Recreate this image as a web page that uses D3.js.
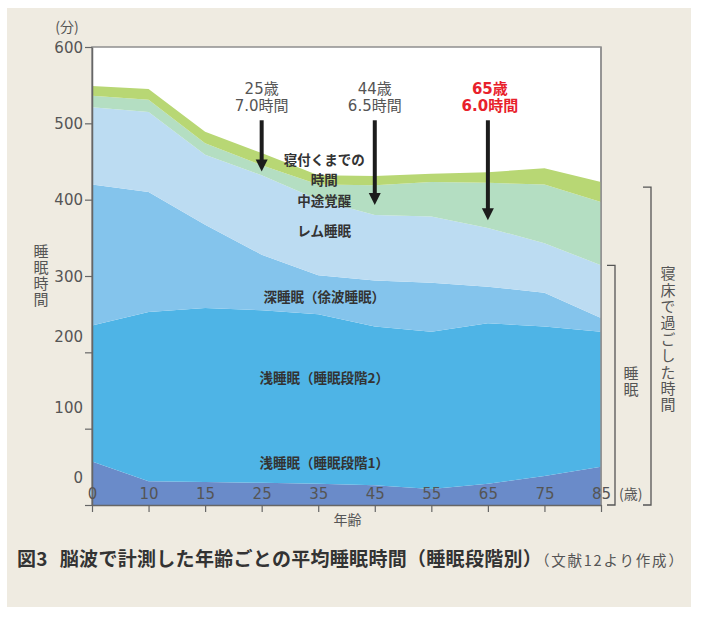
<!DOCTYPE html>
<html>
<head>
<meta charset="utf-8">
<script src="https://d3js.org/d3.v7.min.js"></script>
<style>
body { margin: 0; background: #fff; }
text { font-family: "DejaVu Sans", "Noto Sans CJK JP", sans-serif; }
.jp { font-family: "Noto Sans CJK JP", sans-serif; }
</style>
</head>
<body>
<div id="canvas"></div>
<script>

// ages on the x axis (evenly spaced categories)
var ages = ["0", "10", "15", "25", "35", "45", "55", "65", "75", "85"];
// minutes per stage, bottom to top
var stage1  = [57, 31, 30, 29, 28, 26, 21, 28, 38, 50];
var stage2  = [178, 222, 228, 226, 222, 208, 206, 210, 196, 177];
var sws     = [185, 157, 109, 73, 51, 60, 64, 48, 44, 18];
var rem     = [101, 105, 92, 104, 99, 86, 87, 77, 65, 69];
var waso    = [15, 16, 15, 13, 20, 39, 45, 59, 77, 83];
var latency = [13, 14, 15, 16, 12, 12, 11, 14, 21, 26];
var yTicks = [0, 100, 200, 300, 400, 500, 600];

// arrows: age, label lines, tip (minutes)
var arrowAges = ["25", "45", "65"];
var arrowTop = ["25歳", "44歳", "65歳"];
var arrowBottom = ["7.0時間", "6.5時間", "6.0時間"];
var arrowTips = [437, 393, 373];

var width = 705, height = 617;
var pLeft = 92, pRight = 601, pTop = 47, pBottom = 505;

var svg = d3.select("#canvas").append("svg")
    .attr("width", width).attr("height", height);

svg.append("rect")
    .attr("x", 7).attr("y", 8).attr("width", 684).attr("height", 599)
    .attr("fill", "#efebe1");

var x = d3.scalePoint().domain(ages).range([pLeft, pRight]);
var y = d3.scaleLinear().domain([0, 600]).range([pBottom, pTop]);

svg.append("rect")
    .attr("x", pLeft).attr("y", pTop)
    .attr("width", pRight - pLeft).attr("height", pBottom - pTop)
    .attr("fill", "#fff").attr("stroke", "#8f8f8f").attr("stroke-width", 1.5);

var keys = ["stage1", "stage2", "sws", "rem", "waso", "latency"];
var colors = ["#6a8bc9", "#4eb4e6", "#84c4ec", "#bcdcf2", "#b4dec2", "#b8d774"];
var rows = ages.map(function(a, i) {
    return {age: a, stage1: stage1[i], stage2: stage2[i], sws: sws[i],
            rem: rem[i], waso: waso[i], latency: latency[i]};
});
var series = d3.stack().keys(keys)(rows);

var area = d3.area()
    .x(function(d) { return x(d.data.age); })
    .y0(function(d) { return y(d[0]); })
    .y1(function(d) { return y(d[1]); });

svg.selectAll("path.layer").data(series).enter().append("path")
    .attr("class", "layer")
    .attr("d", area)
    .attr("fill", function(d, i) { return colors[i]; });

// right frame line drawn again over the areas
svg.append("line")
    .attr("x1", pRight).attr("x2", pRight).attr("y1", pTop).attr("y2", pBottom)
    .attr("stroke", "#8f8f8f").attr("stroke-width", 1.5);

// y axis (lower labels sit higher than their ticks, as in the print)
var yShift = {0: -28, 100: -21, 200: -16};
var yAxis = svg.append("g")
    .attr("transform", "translate(" + pLeft + ",0)")
    .call(d3.axisLeft(y).tickValues(yTicks).tickSize(7).tickSizeOuter(0).tickPadding(2));
yAxis.select(".domain").attr("stroke", "#666").attr("stroke-width", 1.5);
yAxis.selectAll(".tick line").attr("stroke", "#666").attr("stroke-width", 1.2);
yAxis.selectAll(".tick text")
    .attr("font-size", 15).attr("fill", "#555").attr("font-family", "DejaVu Sans")
    .attr("dy", function(d) { return (yShift[d] || 0) + 5; });

// x axis, labels drawn inside the plot
var xAxis = svg.append("g")
    .attr("transform", "translate(0," + pBottom + ")")
    .call(d3.axisBottom(x).tickSize(7).tickSizeOuter(0));
xAxis.select(".domain").attr("stroke", "#666").attr("stroke-width", 1.5);
xAxis.selectAll(".tick line").attr("stroke", "#666").attr("stroke-width", 1.2);
xAxis.selectAll(".tick text")
    .attr("font-size", 15).attr("fill", "#555").attr("font-family", "DejaVu Sans")
    .attr("y", -11).attr("dy", "0.35em");

svg.append("text").attr("class", "jp")
    .attr("x", 619).attr("y", pBottom - 11).attr("dy", "0.35em")
    .attr("font-size", 14).attr("fill", "#555").text("(歳)");
svg.append("text").attr("class", "jp")
    .attr("x", (pLeft + pRight) / 2 + 1).attr("y", 520).attr("dy", "0.35em")
    .attr("text-anchor", "middle").attr("font-size", 14).attr("fill", "#555").text("年齢");
svg.append("text").attr("class", "jp")
    .attr("x", 67).attr("y", 27).attr("dy", "0.35em")
    .attr("text-anchor", "middle").attr("font-size", 14).attr("fill", "#555").text("(分)");

// vertical titles
function vtext(str, cx, ytop, spacing, size) {
    svg.append("text").attr("class", "jp")
        .attr("x", cx).attr("y", ytop)
        .style("writing-mode", "vertical-rl")
        .style("letter-spacing", spacing + "px")
        .attr("font-size", size).attr("fill", "#555")
        .text(str);
}
vtext("睡眠時間", 41, 244, 1, 15);
vtext("睡眠", 631, 366, 1, 15);
vtext("寝床で過ごした時間", 668, 266, 1.4, 15);

// brackets
var last = series[3][ages.length - 1][1];
var lastBed = series[5][ages.length - 1][1];
svg.append("path")
    .attr("d", "M607," + y(last) + "H615V" + pBottom + "H607")
    .attr("fill", "none").attr("stroke", "#555").attr("stroke-width", 1.3);
svg.append("path")
    .attr("d", "M643," + (y(lastBed) + 5) + "H651V" + pBottom + "H643")
    .attr("fill", "none").attr("stroke", "#555").attr("stroke-width", 1.3);

// layer labels (each entry: lines, minutes of first line)
var labelX = x("35") + 6;
var layerLabels = [
    [["寝付くまでの", "時間"], 451], [["中途覚醒"], 398], [["レム睡眠"], 358],
    [["深睡眠（徐波睡眠）"], 272], [["浅睡眠（睡眠段階2）"], 166], [["浅睡眠（睡眠段階1）"], 55]
];
var labs = svg.selectAll("text.layerlab").data(layerLabels).enter().append("text")
    .attr("class", "layerlab jp")
    .attr("text-anchor", "middle").attr("font-size", 13.5).attr("font-weight", "bold")
    .attr("fill", "#333");
labs.each(function(d) {
    var t = d3.select(this);
    d[0].forEach(function(line, k) {
        t.append("tspan").attr("x", labelX).attr("y", y(d[1]) + k * 20)
            .attr("dy", "0.35em").text(line);
    });
});

// arrows
arrowAges.forEach(function(a, i) {
    var ax = x(a);
    var y0 = y(504), tip = y(arrowTips[i]);
    svg.append("line")
        .attr("x1", ax).attr("x2", ax).attr("y1", y0).attr("y2", tip - 10)
        .attr("stroke", "#1c1c1c").attr("stroke-width", 4);
    svg.append("path")
        .attr("d", "M" + (ax - 6) + "," + (tip - 12) + "L" + (ax + 6) + "," + (tip - 12) + "L" + ax + "," + tip + "Z")
        .attr("fill", "#1c1c1c");
    var red = (i === 2);
    var g = svg.append("text")
        .attr("text-anchor", "middle").attr("font-size", 15)
        .attr("fill", red ? "#e8212b" : "#555")
        .attr("font-weight", red ? "bold" : "normal");
    g.append("tspan").attr("x", ax + (red ? 2 : 0)).attr("y", y0 - 32).attr("dy", "0.35em").text(arrowTop[i]);
    g.append("tspan").attr("x", ax + (red ? 2 : 0)).attr("y", y0 - 15).attr("dy", "0.35em").text(arrowBottom[i]);
});

// caption
var cap = svg.append("text").attr("class", "jp")
    .attr("x", 17).attr("y", 560).attr("dy", "0.35em");
cap.append("tspan").attr("font-size", 19).attr("font-weight", "bold").attr("fill", "#333")
    .style("letter-spacing", "0.3px").text("図3");
cap.append("tspan").attr("dx", 12).attr("font-size", 19).attr("font-weight", "bold").attr("fill", "#333")
    .style("letter-spacing", "0.3px")
    .text("脳波で計測した年齢ごとの平均睡眠時間（睡眠段階別）");
cap.append("tspan").attr("font-size", 14.5).attr("fill", "#555")
    .style("letter-spacing", "1.8px").text("（文献12より作成）");

</script>
</body>
</html>
